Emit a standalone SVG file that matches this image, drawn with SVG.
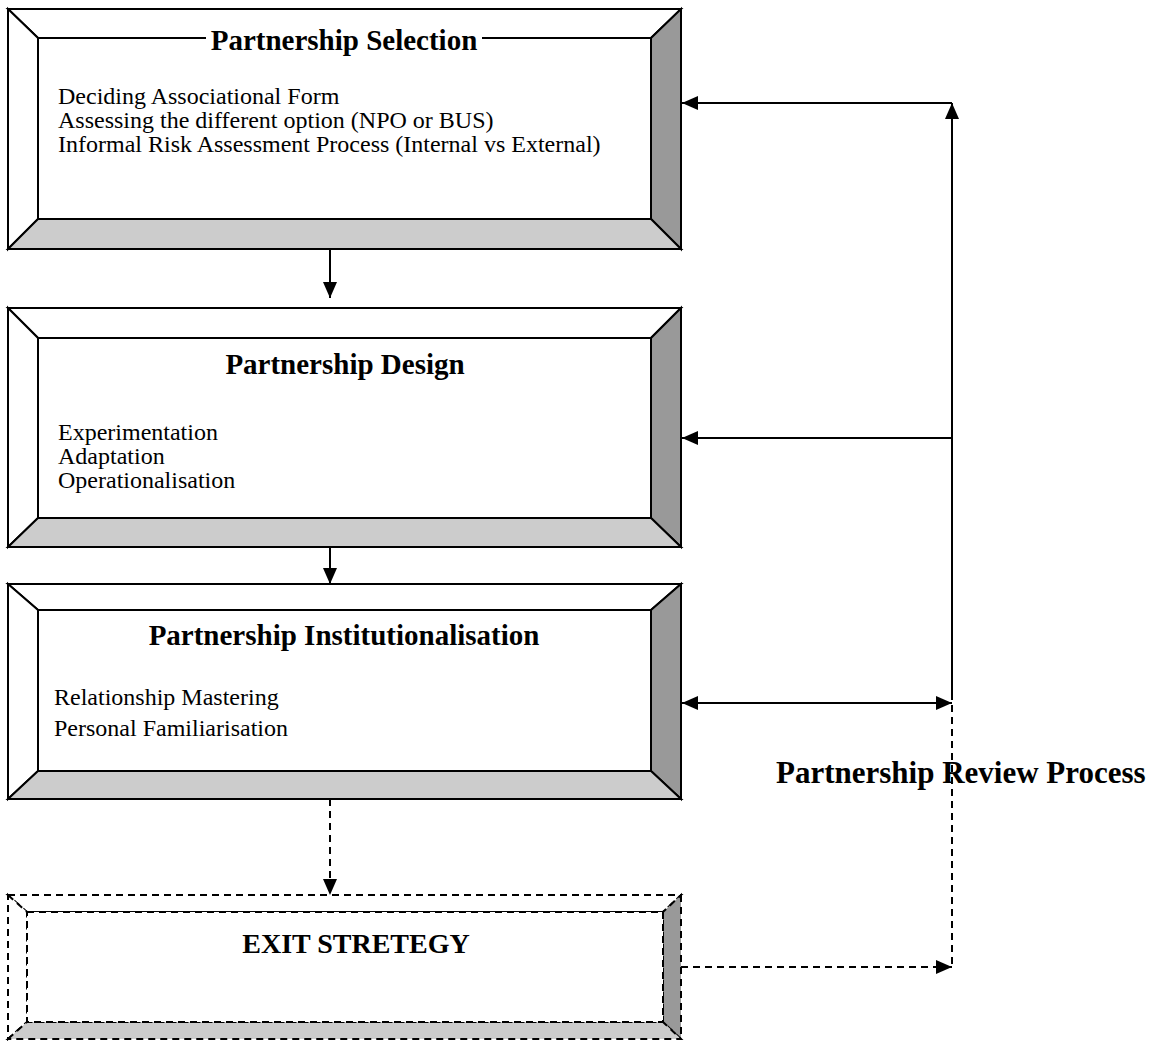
<svg xmlns="http://www.w3.org/2000/svg" width="1158" height="1041" viewBox="0 0 1158 1041">
<style>
.ln{stroke:#000;stroke-width:2;stroke-linejoin:miter}
.w{fill:#fff}.lt{fill:#ccc}.dk{fill:#999}
.ds{stroke-dasharray:7,5}
.c{stroke:#000;stroke-width:2;fill:none}
.t{font-family:"Liberation Serif","Times New Roman",serif;font-weight:bold;fill:#000}
.b{font-family:"Liberation Serif","Times New Roman",serif;font-size:24px;fill:#000}
</style>
<defs>
<marker id="ah" viewBox="0 0 16 14" refX="16" refY="7" markerWidth="16" markerHeight="14" markerUnits="userSpaceOnUse" orient="auto-start-reverse"><path d="M0,0L16,7L0,14z" fill="#000"/></marker>
</defs>
<rect width="1158" height="1041" fill="#fff"/>
<g id="selection">
<polygon class="ln w" points="8,9 681,9 651,38 38,38"/>
<polygon class="ln w" points="8,9 38,38 38,219 8,249"/>
<polygon class="ln dk" points="681,9 681,249 651,219 651,38"/>
<polygon class="ln lt" points="8,249 38,219 651,219 681,249"/>
<rect class="ln w" x="38" y="38" width="613" height="181"/>
<rect x="206" y="28" width="276" height="24" fill="#fff"/>
<text class="t" x="344" y="50" font-size="29" text-anchor="middle">Partnership Selection</text>
<text class="b" x="58" y="104">Deciding Associational Form</text>
<text class="b" x="58" y="128">Assessing the different option (NPO or BUS)</text>
<text class="b" x="58" y="152">Informal Risk Assessment Process (Internal vs External)</text>
</g>
<g id="design">
<polygon class="ln w" points="8,308 681,308 651,338 38,338"/>
<polygon class="ln w" points="8,308 38,338 38,518 8,547"/>
<polygon class="ln dk" points="681,308 681,547 651,518 651,338"/>
<polygon class="ln lt" points="8,547 38,518 651,518 681,547"/>
<rect class="ln w" x="38" y="338" width="613" height="180"/>
<text class="t" x="345" y="374" font-size="29" text-anchor="middle">Partnership Design</text>
<text class="b" x="58" y="440">Experimentation</text>
<text class="b" x="58" y="464">Adaptation</text>
<text class="b" x="58" y="488">Operationalisation</text>
</g>
<g id="institutionalisation">
<polygon class="ln w" points="8,584 681,584 651,610 38,610"/>
<polygon class="ln w" points="8,584 38,610 38,771 8,799"/>
<polygon class="ln dk" points="681,584 681,799 651,771 651,610"/>
<polygon class="ln lt" points="8,799 38,771 651,771 681,799"/>
<rect class="ln w" x="38" y="610" width="613" height="161"/>
<text class="t" x="344" y="645" font-size="29" text-anchor="middle">Partnership Institutionalisation</text>
<text class="b" x="54" y="705">Relationship Mastering</text>
<text class="b" x="54" y="736">Personal Familiarisation</text>
</g>
<g id="exit">
<polygon class="ln ds w" points="8,895 681,895 663,912 27,912"/>
<polygon class="ln ds w" points="8,895 27,912 27,1022 8,1039"/>
<polygon class="ln ds dk" points="681,895 681,1039 663,1022 663,912"/>
<polygon class="ln ds lt" points="8,1039 27,1022 663,1022 681,1039"/>
<rect class="ln ds w" x="27" y="912" width="636" height="110"/>
<text class="t" x="356" y="953" font-size="28" text-anchor="middle">EXIT STRETEGY</text>
</g>
<g id="connectors">
<line class="c" x1="330" y1="249" x2="330" y2="298" marker-end="url(#ah)"/>
<line class="c" x1="330" y1="547" x2="330" y2="584" marker-end="url(#ah)"/>
<line class="c ds" x1="330" y1="799" x2="330" y2="895" marker-end="url(#ah)"/>
<line class="c" x1="952" y1="700" x2="952" y2="103" marker-end="url(#ah)"/>
<line class="c" x1="952" y1="103" x2="682" y2="103" marker-end="url(#ah)"/>
<line class="c" x1="952" y1="438" x2="682" y2="438" marker-end="url(#ah)"/>
<line class="c" x1="682" y1="703" x2="952" y2="703" marker-start="url(#ah)" marker-end="url(#ah)"/>
<line class="c ds" x1="952" y1="705" x2="952" y2="967"/>
<line class="c ds" x1="681" y1="967" x2="952" y2="967" marker-end="url(#ah)"/>
</g>
<text class="t" x="776" y="783" font-size="31">Partnership Review Process</text>
</svg>
